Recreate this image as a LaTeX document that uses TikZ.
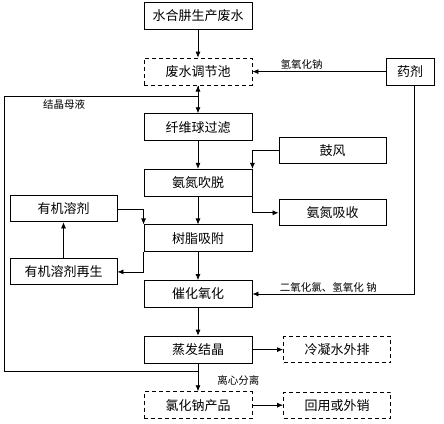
\documentclass[tikz,border=0pt]{standalone}
\usepackage{fontspec}
\setmainfont{Noto Sans CJK SC}
\usetikzlibrary{positioning,arrows.meta}

\begin{document}
\begin{tikzpicture}[x=1pt,y=1pt,node distance=55.6pt,on grid,
  >={Latex[length=6pt,width=5pt]},line width=0.7pt,
  box/.style={draw,line width=0.9pt,minimum width=108pt,minimum height=27pt,
    inner sep=0pt,font=\fontsize{13}{15}\selectfont},
  dbox/.style={box,dash pattern=on 4pt off 3pt},
  note/.style={font=\fontsize{10.5}{12}\selectfont,inner sep=1pt}]
  \useasboundingbox (0,0) rectangle (444,-423);
  % main line
  \node[box] (src) at (198,-16) {水合肼生产废水};
  \node[dbox] (tank) [below=of src] {废水调节池};
  \node[box,minimum width=48pt] (drug) [right=212pt of tank] {药剂};
  \node[box] (filt) [below=of tank] {纤维球过滤};
  \node[box] (strip) [below=of filt] {氨氮吹脱};
  \node[box,minimum width=107pt,minimum height=26pt] (blow) [above right=32pt and 134.5pt of strip] {鼓风};
  \node[box,minimum width=107pt,minimum height=26pt] (absb) [below right=30pt and 134.5pt of strip] {氨氮吸收};
  \node[box] (resin) [below=of strip] {树脂吸附};
  \node[box,minimum width=107pt,minimum height=26pt] (solv) [above left=29.5pt and 134.5pt of resin] {有机溶剂};
  \node[box,minimum width=107pt,minimum height=26pt] (regen) [below left=33.5pt and 134.5pt of resin] {有机溶剂再生};
  \node[box] (oxid) [below=of resin] {催化氧化};
  \node[box] (evap) [below=of oxid] {蒸发结晶};
  \node[dbox,minimum width=107pt,minimum height=26pt] (cond) [right=139pt of evap] {冷凝水外排};
  \node[dbox] (nacl) [below=of evap] {氯化钠产品};
  \node[dbox,minimum width=107pt,minimum height=26pt] (reuse) [right=139pt of nacl] {回用或外销};
  \coordinate (ret) at (198,-371);
  \coordinate (top) at (198,-96);

  \path[->]
    (src) edge (tank)
    (tank) edge (filt)
    (filt) edge (strip)
    (strip) edge (resin)
    (resin) edge (oxid)
    (oxid) edge (evap)
    (regen) edge (solv)
    (evap) edge (cond)
    (nacl) edge (reuse);
  \draw[<-] (tank.east) -- node[note,pos=0.37,above=1pt]{氢氧化钠} (drug.west);
  \draw[->] ([xshift=4pt]drug.south) |- node[note,pos=0.765,above=0pt]{二氧化氯、氢氧化 钠} (oxid.east);
  \draw[->] (blow.west) -| (strip.north east);
  \draw[->] (strip.north east) |- (absb.west);
  \draw[->] (solv.east) -| (resin.north west);
  \draw[->] (resin.south west) |- (regen.east);
  \draw[->] (evap) -- node[note,pos=0.6,right=18pt]{离心分离} (nacl);
  \draw[->] (ret) -- ++(-194,0) |- node[note,pos=0.655,below=2pt]{结晶母液} (top) -- (tank.south);
\end{tikzpicture}
\end{document}
